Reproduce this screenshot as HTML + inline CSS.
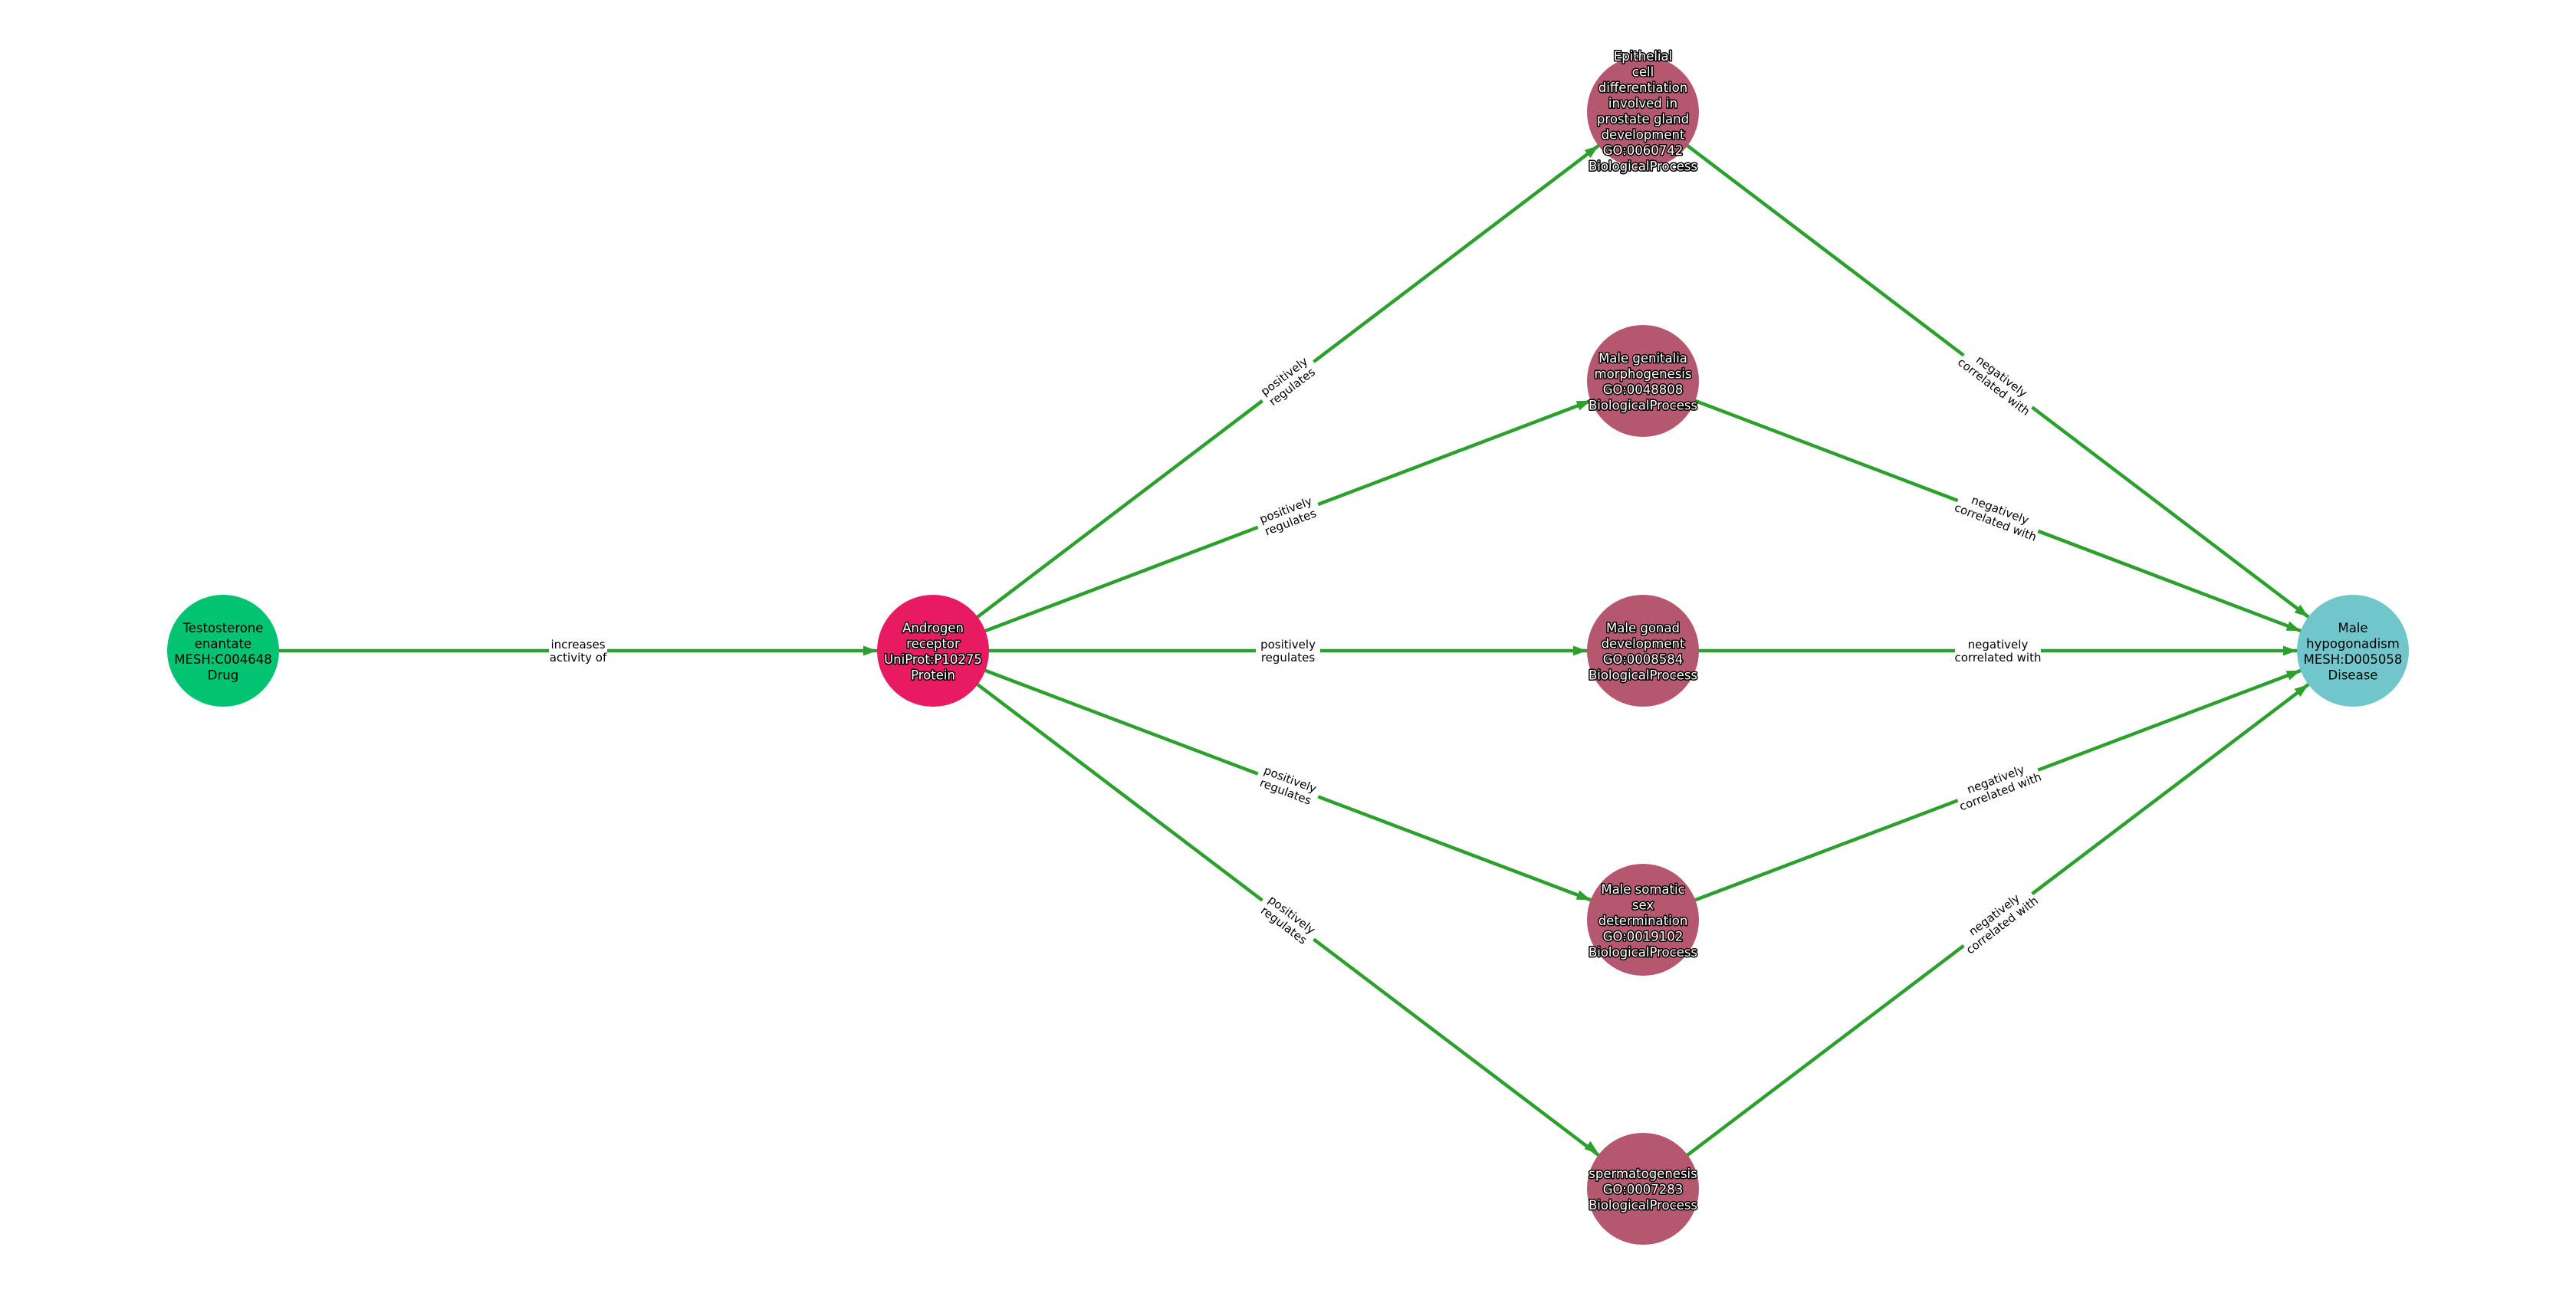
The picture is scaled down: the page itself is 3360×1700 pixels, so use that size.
<!DOCTYPE html>
<html><head><meta charset="utf-8"><style>
html,body{margin:0;padding:0;background:#fff;}
svg{display:block;}
.lbl{font-family:"DejaVu Sans","Liberation Sans",sans-serif;font-size:15px;fill:#000;text-anchor:middle;}
.nd{font-family:"DejaVu Sans","Liberation Sans",sans-serif;font-size:16.5px;text-anchor:middle;}
.w{fill:#fff;stroke:#000;stroke-width:3px;paint-order:stroke;stroke-linejoin:round;}
.b{fill:#000;}
</style></head><body>
<svg width="3360" height="1700" viewBox="0 0 3360 1700" xmlns="http://www.w3.org/2000/svg">
<g stroke="#2ca02c" stroke-width="4.5" fill="none">
<line x1="291" y1="849" x2="1217" y2="849"/>
<line x1="1217" y1="849" x2="2143" y2="146"/>
<line x1="1217" y1="849" x2="2143" y2="497"/>
<line x1="1217" y1="849" x2="2143" y2="849"/>
<line x1="1217" y1="849" x2="2143" y2="1200"/>
<line x1="1217" y1="849" x2="2143" y2="1551"/>
<line x1="2143" y1="146" x2="3069" y2="849"/>
<line x1="2143" y1="497" x2="3069" y2="849"/>
<line x1="2143" y1="849" x2="3069" y2="849"/>
<line x1="2143" y1="1200" x2="3069" y2="849"/>
<line x1="2143" y1="1551" x2="3069" y2="849"/>
</g>
<g fill="#2ca02c">
<path d="M-18,-6.5 L0,0 L-18,6.5 z" transform="translate(1144,849)"/>
<path d="M-18,-6.5 L0,0 L-18,6.5 z" transform="translate(2084.9,190.1) rotate(-37.2)"/>
<path d="M-18,-6.5 L0,0 L-18,6.5 z" transform="translate(2074.8,522.9) rotate(-20.8)"/>
<path d="M-18,-6.5 L0,0 L-18,6.5 z" transform="translate(2070,849)"/>
<path d="M-18,-6.5 L0,0 L-18,6.5 z" transform="translate(2074.8,1174.1) rotate(20.8)"/>
<path d="M-18,-6.5 L0,0 L-18,6.5 z" transform="translate(2084.9,1504.9) rotate(37.2)"/>
<path d="M-18,-6.5 L0,0 L-18,6.5 z" transform="translate(3010.9,804.9) rotate(37.2)"/>
<path d="M-18,-6.5 L0,0 L-18,6.5 z" transform="translate(3000.8,823.1) rotate(20.8)"/>
<path d="M-18,-6.5 L0,0 L-18,6.5 z" transform="translate(2996,849)"/>
<path d="M-18,-6.5 L0,0 L-18,6.5 z" transform="translate(3000.8,874.9) rotate(-20.8)"/>
<path d="M-18,-6.5 L0,0 L-18,6.5 z" transform="translate(3010.9,893.1) rotate(-37.2)"/>
</g>
<!-- edge labels -->
<g transform="translate(754,849)"><rect x="-38" y="-18" width="76" height="36" fill="#fff"/><text class="lbl" y="-3">increases</text><text class="lbl" y="14">activity of</text></g>
<g transform="translate(1680,497.5) rotate(-37.2)"><rect x="-42" y="-18" width="84" height="36" fill="#fff"/><text class="lbl" y="-3">positively</text><text class="lbl" y="14">regulates</text></g>
<g transform="translate(1680,673) rotate(-20.8)"><rect x="-42" y="-18" width="84" height="36" fill="#fff"/><text class="lbl" y="-3">positively</text><text class="lbl" y="14">regulates</text></g>
<g transform="translate(1680,849)"><rect x="-42" y="-18" width="84" height="36" fill="#fff"/><text class="lbl" y="-3">positively</text><text class="lbl" y="14">regulates</text></g>
<g transform="translate(1680,1024.5) rotate(20.8)"><rect x="-42" y="-18" width="84" height="36" fill="#fff"/><text class="lbl" y="-3">positively</text><text class="lbl" y="14">regulates</text></g>
<g transform="translate(1680,1200) rotate(37.2)"><rect x="-42" y="-18" width="84" height="36" fill="#fff"/><text class="lbl" y="-3">positively</text><text class="lbl" y="14">regulates</text></g>
<g transform="translate(2606,497.5) rotate(37.2)"><rect x="-56" y="-18" width="112" height="36" fill="#fff"/><text class="lbl" y="-3">negatively</text><text class="lbl" y="14">correlated with</text></g>
<g transform="translate(2606,673) rotate(20.8)"><rect x="-56" y="-18" width="112" height="36" fill="#fff"/><text class="lbl" y="-3">negatively</text><text class="lbl" y="14">correlated with</text></g>
<g transform="translate(2606,849)"><rect x="-56" y="-18" width="112" height="36" fill="#fff"/><text class="lbl" y="-3">negatively</text><text class="lbl" y="14">correlated with</text></g>
<g transform="translate(2606,1024.5) rotate(-20.8)"><rect x="-56" y="-18" width="112" height="36" fill="#fff"/><text class="lbl" y="-3">negatively</text><text class="lbl" y="14">correlated with</text></g>
<g transform="translate(2606,1200) rotate(-37.2)"><rect x="-56" y="-18" width="112" height="36" fill="#fff"/><text class="lbl" y="-3">negatively</text><text class="lbl" y="14">correlated with</text></g>
<!-- nodes -->
<circle cx="291" cy="849" r="73" fill="#02c372"/>
<circle cx="1217" cy="849" r="73" fill="#e81a62"/>
<circle cx="2143" cy="146" r="73" fill="#b5576e"/>
<circle cx="2143" cy="497" r="73" fill="#b5576e"/>
<circle cx="2143" cy="849" r="73" fill="#b5576e"/>
<circle cx="2143" cy="1200" r="73" fill="#b5576e"/>
<circle cx="2143" cy="1551" r="73" fill="#b5576e"/>
<circle cx="3069" cy="849" r="73" fill="#71c6cb"/>
<!-- node text -->
<g class="nd b"><text x="291" y="825">Testosterone</text><text x="291" y="845.5">enantate</text><text x="291" y="866">MESH:C004648</text><text x="291" y="886.5">Drug</text></g>
<g class="nd w"><text x="1217" y="825">Androgen</text><text x="1217" y="845.5">receptor</text><text x="1217" y="866">UniProt:P10275</text><text x="1217" y="886.5">Protein</text></g>
<g class="nd w"><text x="2143" y="79">Epithelial</text><text x="2143" y="99.5">cell</text><text x="2143" y="120">differentiation</text><text x="2143" y="140.5">involved in</text><text x="2143" y="161">prostate gland</text><text x="2143" y="181.5">development</text><text x="2143" y="202">GO:0060742</text><text x="2143" y="222.5">BiologicalProcess</text></g>
<g class="nd w"><text x="2143" y="473">Male genitalia</text><text x="2143" y="493.5">morphogenesis</text><text x="2143" y="514">GO:0048808</text><text x="2143" y="534.5">BiologicalProcess</text></g>
<g class="nd w"><text x="2143" y="825">Male gonad</text><text x="2143" y="845.5">development</text><text x="2143" y="866">GO:0008584</text><text x="2143" y="886.5">BiologicalProcess</text></g>
<g class="nd w"><text x="2143" y="1166">Male somatic</text><text x="2143" y="1186.5">sex</text><text x="2143" y="1207">determination</text><text x="2143" y="1227.5">GO:0019102</text><text x="2143" y="1248">BiologicalProcess</text></g>
<g class="nd w"><text x="2143" y="1537">spermatogenesis</text><text x="2143" y="1557.5">GO:0007283</text><text x="2143" y="1578">BiologicalProcess</text></g>
<g class="nd b"><text x="3069" y="825">Male</text><text x="3069" y="845.5">hypogonadism</text><text x="3069" y="866">MESH:D005058</text><text x="3069" y="886.5">Disease</text></g>
</svg>
</body></html>
